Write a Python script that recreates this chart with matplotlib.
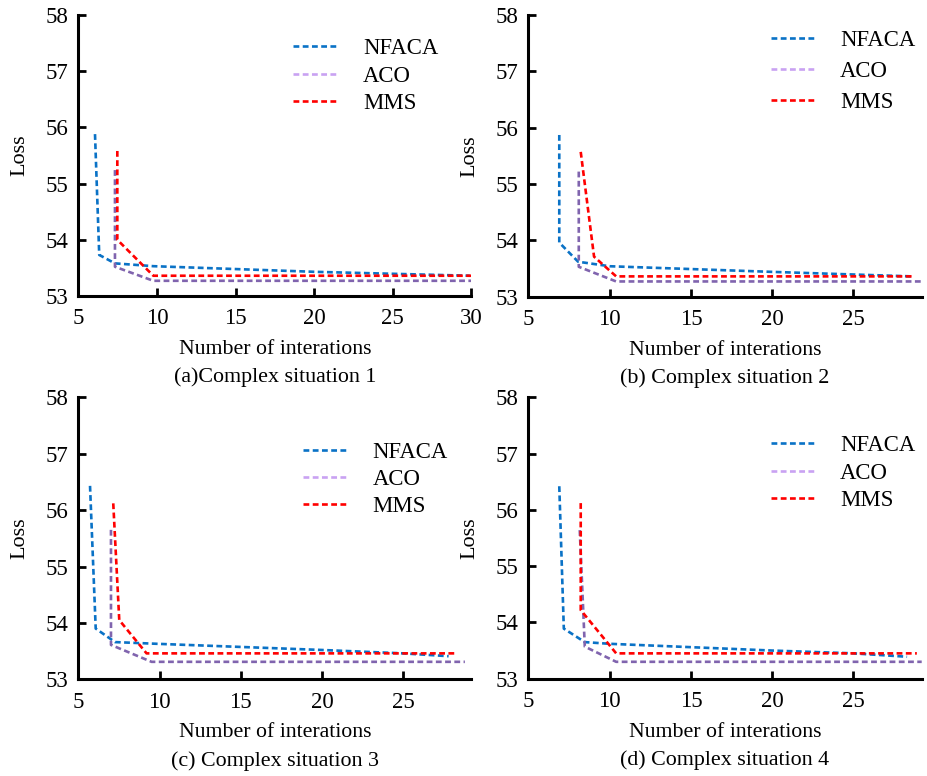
import matplotlib
matplotlib.use("Agg")
import matplotlib.pyplot as plt
from matplotlib.lines import Line2D

plt.rcParams['font.family'] = ['Liberation Serif', 'DejaVu Serif']

# panel (a)
nfaca_a_x = [6.06, 6.33, 7.33, 9.77, 20, 29.9]
nfaca_a_y = [55.88, 53.73, 53.58, 53.53, 53.43, 53.36]
aco_a_x = [7.33, 7.33, 9.77, 30]
aco_a_y = [55.24, 53.52, 53.27, 53.27]
mms_a_x = [7.48, 7.48, 9.77, 30]
mms_a_y = [55.58, 54.0, 53.36, 53.36]

# panel (b)
nfaca_b_x = [6.9, 6.9, 8.06, 10, 20, 28.6]
nfaca_b_y = [55.87, 53.96, 53.62, 53.54, 53.44, 53.36]
aco_b_x = [8.1, 8.1, 10.4, 29.2]
aco_b_y = [55.22, 53.53, 53.27, 53.27]
mms_b_x = [8.22, 9.04, 10.4, 28.7]
mms_b_y = [55.57, 53.71, 53.36, 53.36]

# panel (c)
nfaca_c_x = [5.72, 6.07, 7.26, 9.8, 20, 25, 27.8]
nfaca_c_y = [56.43, 53.9, 53.66, 53.63, 53.52, 53.46, 53.41]
aco_c_x = [7.01, 7.01, 9.51, 28.8]
aco_c_y = [55.65, 53.61, 53.31, 53.31]
mms_c_x = [7.15, 7.52, 9.2, 28.2]
mms_c_y = [56.12, 54.05, 53.46, 53.46]

# panel (d)
nfaca_d_x = [6.9, 7.18, 8.47, 10, 20, 25, 28.3]
nfaca_d_y = [56.42, 53.89, 53.65, 53.62, 53.5, 53.45, 53.39]
aco_d_x = [8.16, 8.47, 10.4, 29.2]
aco_d_y = [55.64, 53.57, 53.3, 53.3]
mms_d_x = [8.22, 8.22, 10.4, 28.9]
mms_d_y = [56.12, 54.22, 53.45, 53.45]

captions = ['(a)Complex situation 1', '(b) Complex situation 2',
            '(c) Complex situation 3', '(d) Complex situation 4']
series_names = ['NFACA', 'ACO', 'MMS']
xticks_a = [5, 10, 15, 20, 25, 30]
xticks_other = [5, 10, 15, 20, 25]
yticks = [53, 54, 55, 56, 57, 58]

blue = '#0a72c6'
purple = '#8064ae'
purple_leg = '#c9a2f2'
red = '#ff0000'
dash = (0, (2.2, 1.3))
lw = 1.9

fig = plt.figure(figsize=(9.27, 7.76), dpi=100)

# [left, bottom, width, height], xmax, xticks, legend anchor (x, top), spacing
panels = [
    ([0.0845, 0.6186, 0.4240, 0.3621], 30.0, xticks_a, (0.547, 0.917), 0.28,
     (nfaca_a_x, nfaca_a_y), (aco_a_x, aco_a_y), (mms_a_x, mms_a_y)),
    ([0.5700, 0.6177, 0.4243, 0.3630], 29.2, xticks_other, (0.616, 0.945), 0.42,
     (nfaca_b_x, nfaca_b_y), (aco_b_x, aco_b_y), (mms_b_x, mms_b_y)),
    ([0.0845, 0.1246, 0.4240, 0.3634], 29.2, xticks_other, (0.572, 0.84), 0.25,
     (nfaca_c_x, nfaca_c_y), (aco_c_x, aco_c_y), (mms_c_x, mms_c_y)),
    ([0.5700, 0.1254, 0.4243, 0.3626], 29.2, xticks_other, (0.616, 0.865), 0.28,
     (nfaca_d_x, nfaca_d_y), (aco_d_x, aco_d_y), (mms_d_x, mms_d_y)),
]

for i, (rect, xmax, xt, leg_at, spacing, nf, ac, mm) in enumerate(panels):
    ax = fig.add_axes(rect)
    ax.plot(nf[0], nf[1], color=blue, lw=lw, ls=dash)
    ax.plot(ac[0], ac[1], color=purple, lw=lw, ls=dash)
    ax.plot(mm[0], mm[1], color=red, lw=lw, ls=dash)

    ax.set_xlim(5, xmax)
    ax.set_ylim(53, 58)
    ax.set_xticks(xt)
    ax.set_yticks(yticks)
    for s in ['top', 'right']:
        ax.spines[s].set_visible(False)
    for s in ['left', 'bottom']:
        ax.spines[s].set_linewidth(2.2)
    ax.tick_params(direction='in', length=6, width=2, labelsize=16.5)
    ax.tick_params(axis='x', pad=9)
    ax.tick_params(axis='y', pad=7)

    ax.text(-0.148, 0.5, 'Loss', transform=ax.transAxes, rotation=90,
            ha='center', va='center', fontsize=16)
    ax.text(0.5, -0.19, 'Number of interations', transform=ax.transAxes,
            ha='center', va='center', fontsize=15.7)
    ax.text(0.5, -0.29, captions[i], transform=ax.transAxes,
            ha='center', va='center', fontsize=15.8)

    handles = [Line2D([], [], color=c, lw=lw, ls=dash)
               for c in [blue, purple_leg, red]]
    ax.legend(handles, series_names, loc='upper left', bbox_to_anchor=leg_at,
              frameon=False, fontsize=16.4, handlelength=2.0,
              handletextpad=1.05, labelspacing=spacing, borderpad=0,
              borderaxespad=0)

fig.savefig('out.png', dpi=100)
